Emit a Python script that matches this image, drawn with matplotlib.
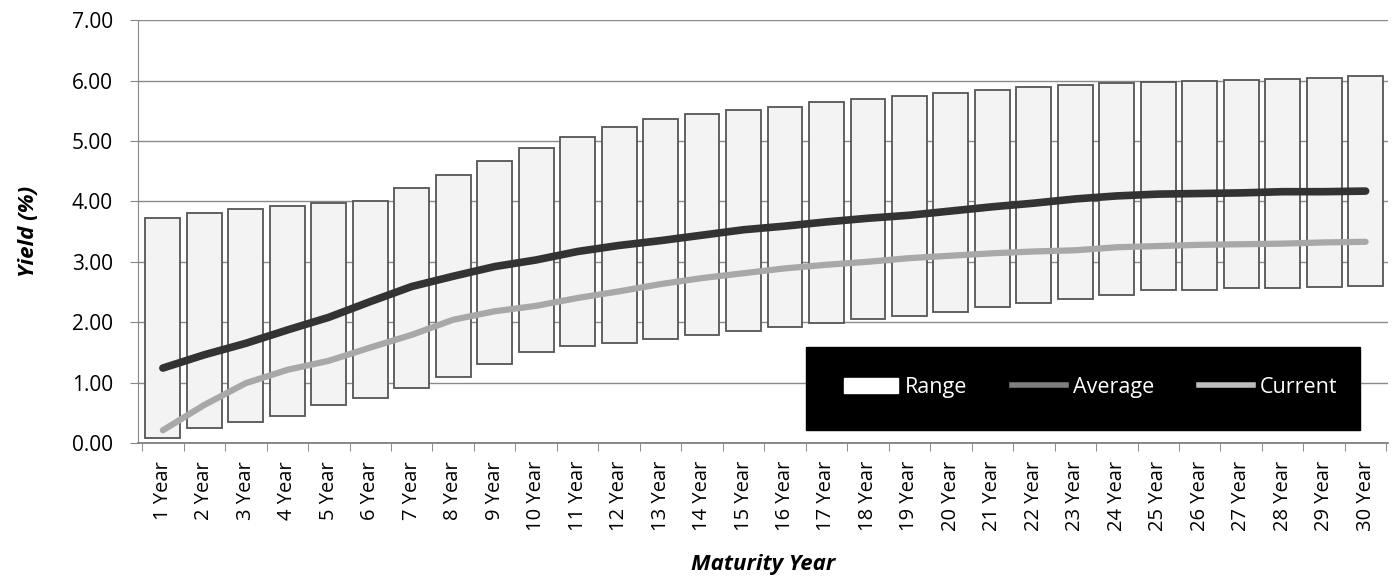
import numpy as np
import matplotlib
matplotlib.use('Agg')
import matplotlib.pyplot as plt
from matplotlib.lines import Line2D
from matplotlib.patches import Patch, Rectangle
from matplotlib.ticker import FixedLocator

# ── Datos ──
years = [f'{i} Year' for i in range(1, 31)]
range_low = [0.09, 0.24, 0.34, 0.44, 0.62, 0.75, 0.91, 1.10, 1.31, 1.51,
             1.61, 1.66, 1.72, 1.78, 1.85, 1.92, 1.99, 2.05, 2.11, 2.17,
             2.25, 2.32, 2.39, 2.45, 2.53, 2.54, 2.56, 2.57, 2.59, 2.60]
range_high = [3.72, 3.80, 3.87, 3.93, 3.98, 4.00, 4.22, 4.43, 4.67, 4.88,
              5.06, 5.23, 5.37, 5.45, 5.51, 5.57, 5.64, 5.69, 5.75, 5.80,
              5.85, 5.90, 5.93, 5.96, 5.98, 6.00, 6.01, 6.03, 6.05, 6.07]
average = [1.24, 1.46, 1.65, 1.87, 2.08, 2.34, 2.59, 2.76, 2.92, 3.03,
           3.17, 3.27, 3.35, 3.44, 3.53, 3.59, 3.66, 3.72, 3.77, 3.84,
           3.91, 3.97, 4.04, 4.09, 4.12, 4.13, 4.14, 4.16, 4.16, 4.17]
current = [0.21, 0.63, 0.99, 1.21, 1.36, 1.58, 1.79, 2.04, 2.18, 2.27,
           2.40, 2.51, 2.63, 2.73, 2.81, 2.89, 2.95, 3.00, 3.06, 3.10,
           3.14, 3.17, 3.19, 3.24, 3.26, 3.28, 3.29, 3.30, 3.32, 3.33]

x = np.arange(len(years))
low = np.array(range_low)
high = np.array(range_high)

plt.rcParams['font.family'] = ['Open Sans', 'DejaVu Sans']

fig = plt.figure(figsize=(13.94, 5.76), dpi=100)
ax = fig.add_axes([0.099, 0.231, 0.897, 0.734])

# ── Grilla ──
ax.set_axisbelow(True)
ax.yaxis.grid(True, color='#8a8a8a', linewidth=1.0)

# ── Barras de rango ──
ax.bar(x, high - low, bottom=low, width=0.84, color='#f3f3f3',
       edgecolor='#555555', linewidth=1.3, zorder=2)

# ── Líneas ──
ax.plot(x, average, color='#333333', linewidth=5.5, solid_capstyle='round', zorder=3)
ax.plot(x, current, color='#a8a8a8', linewidth=4.5, solid_capstyle='round', zorder=3)

ax.set_xlim(-0.6, 29.55)
ax.set_ylim(0, 7)
ax.set_yticks(np.arange(0, 7.01, 1))
ax.set_yticklabels([f'{v:.2f}' for v in np.arange(0, 7.01, 1)], fontsize=15)
ax.set_xticks(x)
ax.set_xticklabels(years, rotation=90, fontsize=14.5)
ax.xaxis.set_minor_locator(FixedLocator(np.arange(-0.5, 30, 1)))
ax.tick_params(axis='x', which='major', length=0, pad=13)
ax.tick_params(axis='x', which='minor', length=6, color='#777777', direction='out')
ax.tick_params(axis='y', length=6, color='#888888', pad=12)

for s in ['top', 'right']:
    ax.spines[s].set_visible(False)
ax.spines['left'].set_color('#888888')
ax.spines['bottom'].set_color('#777777')
ax.spines['bottom'].set_linewidth(1.2)

ax.set_ylabel('Yield (%)', fontsize=16, fontweight='bold', style='italic', labelpad=24)
ax.set_xlabel('Maturity Year', fontsize=16, fontweight='bold', style='italic', labelpad=16)

# ── Leyenda (caja negra + leyenda sin marco) ──
ax.add_patch(Rectangle((0.534, 0.031), 0.443, 0.196, transform=ax.transAxes,
                       facecolor='black', edgecolor='black', zorder=5))
handles = [Patch(facecolor='white', edgecolor='white'),
           Line2D([0], [0], color='#7f7f7f', linewidth=4),
           Line2D([0], [0], color='#bdbdbd', linewidth=4)]
leg = ax.legend(handles, ['Range', 'Average', 'Current'], ncol=3,
                loc='center left', bbox_to_anchor=(0.565, 0.132),
                frameon=False, fontsize=15.5, labelcolor='white',
                borderpad=0, handlelength=2.5, handletextpad=0.3,
                columnspacing=2.1, borderaxespad=0)
leg.set_zorder(6)

plt.savefig('out.png', dpi=100)
